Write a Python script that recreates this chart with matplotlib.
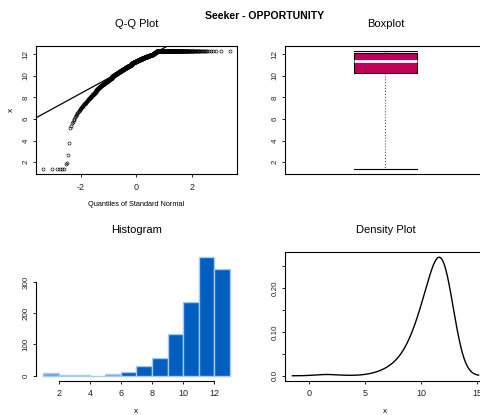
import numpy as np
import matplotlib
matplotlib.use("Agg")
import matplotlib.pyplot as plt
from statistics import NormalDist

plt.rcParams['font.family'] = ['Liberation Sans', 'DejaVu Sans']
plt.rcParams['axes.unicode_minus'] = False

# ---------------- data (frequency table of the sample) ----------------
tail_values = [1.35, 1.8, 1.95, 2.7, 3.76, 5.15, 5.4, 5.6, 5.76, 5.9]
tail_counts = [6, 1, 1, 1, 1, 1, 1, 1, 1, 1]

mid_values = [
    6.05, 6.15, 6.25, 6.35, 6.45, 6.55, 6.65, 6.75, 6.85, 6.95,
    7.05, 7.15, 7.25, 7.35, 7.45, 7.55, 7.65, 7.75, 7.85, 7.95,
    8.05, 8.15, 8.25, 8.35, 8.45, 8.55, 8.65, 8.75, 8.85, 8.95,
    9.05, 9.15, 9.25, 9.35, 9.45, 9.55, 9.65, 9.75, 9.85, 9.95,
    10.05, 10.15, 10.25, 10.35, 10.45, 10.55, 10.65, 10.75, 10.85, 10.95,
    11.05, 11.15, 11.25, 11.35, 11.45, 11.55, 11.65, 11.75, 11.85, 11.95,
]
mid_counts = [
    1, 1, 1, 1, 1, 1, 1, 2, 1, 2,
    2, 2, 3, 4, 3, 3, 3, 3, 4, 4,
    4, 4, 5, 5, 6, 6, 6, 7, 7, 8,
    9, 10, 11, 12, 13, 13, 14, 15, 17, 18,
    19, 20, 21, 22, 23, 24, 25, 26, 27, 29,
    33, 34, 35, 36, 37, 38, 39, 40, 42, 45,
]
top_values = [12.05, 12.15, 12.25, 12.33]
top_counts = [20, 20, 20, 280]

hist_breaks = [1, 2, 3, 4, 5, 6, 7, 8, 9, 10, 11, 12, 13]
density_bw = 0.93

main_title = "Seeker - OPPORTUNITY"
panel_titles = ["Q-Q Plot", "Boxplot", "Histogram", "Density Plot"]

# ---------------- build sample ----------------
values = np.array(tail_values + mid_values + top_values)
counts = np.array(tail_counts + mid_counts + top_counts)
x = np.sort(np.repeat(values, counts))
n = len(x)

W, H = 481, 415
fig = plt.figure(figsize=(W / 100, H / 100), dpi=100)


def add_ax(l, r, t, b):
    return fig.add_axes([l / W, 1 - b / H, (r - l) / W, (b - t) / H])


def rext(lo, hi):
    d = (hi - lo) * 0.04
    return lo - d, hi + d


tick_kw = dict(direction='out', length=2.4, width=0.7, colors='#222222')
lw_frame = 0.8

# ---------------- Q-Q plot ----------------
ax1 = add_ax(36, 237, 46, 174)
nd = NormalDist()
a = 0.5
theo = np.array([nd.inv_cdf((i - a) / n) for i in range(1, n + 1)])
ax1.plot(theo, x, 'o', ms=2.2, mfc='none', mec='black', mew=0.45)
q1, q3 = np.quantile(x, [0.25, 0.75])
z1, z3 = nd.inv_cdf(0.25), nd.inv_cdf(0.75)
slope = (q3 - q1) / (z3 - z1)
inter = q1 - slope * z1
ax1.axline((0, inter), slope=slope, color='black', lw=0.9)
ax1.set_xlim(*rext(theo.min(), theo.max()))
ax1.set_ylim(*rext(x.min(), x.max()))
ax1.set_xticks([-2, 0, 2])
ax1.set_yticks([2, 4, 6, 8, 10, 12])
ax1.tick_params(axis='x', labelsize=6.5, pad=4, **tick_kw)
ax1.tick_params(axis='y', labelsize=5.8, pad=2, labelrotation=90, **tick_kw)
for lab in ax1.get_yticklabels():
    lab.set_va('center')
for s in ax1.spines.values():
    s.set_linewidth(lw_frame)
ax1.set_title(panel_titles[0], fontsize=8, pad=14)
fig.text(136.5 / W, 1 - 205 / H, "Quantiles of Standard Normal", fontsize=5.3,
         ha='center', va='center')
fig.text(11.5 / W, 1 - 110 / H, "x", fontsize=6, ha='center', va='center',
         rotation=90)

# ---------------- Boxplot ----------------
ax2 = add_ax(285, 486, 46, 174)
bp = ax2.boxplot(x, positions=[1], widths=0.31, whis=(0, 100), patch_artist=True,
                 showfliers=False,
                 boxprops=dict(facecolor='#C2005C', edgecolor='black', lw=0.8),
                 medianprops=dict(color='white', lw=2.0),
                 whiskerprops=dict(color='#333333', lw=0.7, linestyle=(0, (1, 2))),
                 capprops=dict(color='black', lw=0.8),
                 capwidths=0.31)
ax2.set_xlim(0.5, 1.5)
ax2.set_ylim(*rext(x.min(), x.max()))
ax2.set_xticks([])
ax2.set_yticks([2, 4, 6, 8, 10, 12])
ax2.tick_params(axis='y', labelsize=5.8, pad=2, labelrotation=90, **tick_kw)
for lab in ax2.get_yticklabels():
    lab.set_va('center')
for s in ax2.spines.values():
    s.set_linewidth(lw_frame)
ax2.set_title(panel_titles[1], fontsize=8, pad=14)

# ---------------- Histogram ----------------
ax3 = add_ax(36, 237, 252.5, 380.5)
hc, he = np.histogram(x, bins=hist_breaks)
cols = ['#6A9FE2' if c < 10 else '#005EC0' for c in hc]
ax3.bar(he[:-1], hc, width=np.diff(he), align='edge', color=cols,
        edgecolor='#A9CBF0', linewidth=1.0)
ax3.set_xlim(*rext(he[0], he[-1]))
ax3.set_ylim(*rext(0, hc.max()))
ax3.set_xticks([2, 4, 6, 8, 10, 12])
ax3.set_yticks([0, 100, 200, 300])
ax3.spines['top'].set_visible(False)
ax3.spines['right'].set_visible(False)
ax3.spines['bottom'].set_bounds(2, 12)
ax3.spines['left'].set_bounds(0, 300)
for s in ax3.spines.values():
    s.set_linewidth(lw_frame)
ax3.tick_params(axis='x', labelsize=6.5, pad=4, **tick_kw)
ax3.tick_params(axis='y', labelsize=5.8, pad=2, labelrotation=90, **tick_kw)
for lab in ax3.get_yticklabels():
    lab.set_va('center')
ax3.set_title(panel_titles[2], fontsize=8, pad=14)
fig.text(136.5 / W, 1 - 411 / H, "x", fontsize=6, ha='center', va='center')

# ---------------- Density ----------------
ax4 = add_ax(285, 486, 252.5, 380.5)
gx = np.linspace(x.min() - 3 * density_bw, x.max() + 3 * density_bw, 512)
gy = np.exp(-0.5 * ((gx[:, None] - x[None, :]) / density_bw) ** 2).sum(axis=1)
gy = gy / (n * density_bw * np.sqrt(2 * np.pi))
ax4.plot(gx, gy, color='black', lw=1.0)
ax4.set_xlim(*rext(gx.min(), gx.max()))
ax4.set_ylim(*rext(gy.min(), gy.max()))
ax4.set_xticks([0, 5, 10, 15])
ax4.set_yticks([0, 0.05, 0.10, 0.15, 0.20, 0.25])
ax4.set_yticklabels(["0.0", "", "0.10", "", "0.20", ""])
ax4.tick_params(axis='x', labelsize=6.5, pad=4, **tick_kw)
ax4.tick_params(axis='y', labelsize=5.8, pad=2, labelrotation=90, **tick_kw)
for lab in ax4.get_yticklabels():
    lab.set_va('center')
for s in ax4.spines.values():
    s.set_linewidth(lw_frame)
ax4.set_title(panel_titles[3], fontsize=8, pad=14)
fig.text(385 / W, 1 - 411 / H, "x", fontsize=6, ha='center', va='center')

# ---------------- main title ----------------
fig.text(265 / W, 1 - 16 / H, main_title, fontsize=7.6, fontweight='bold',
         ha='center', va='center')

fig.savefig("out.png", dpi=100)
